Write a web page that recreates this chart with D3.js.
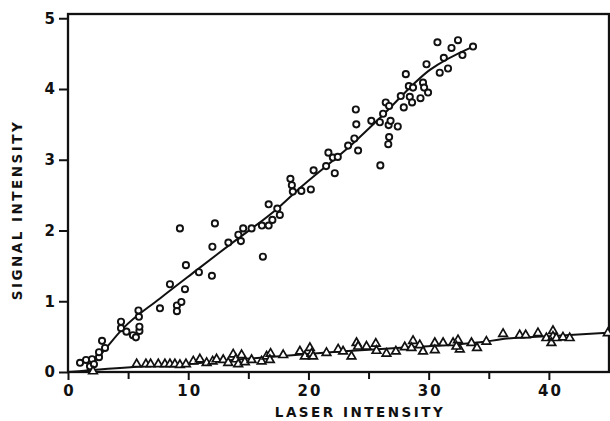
<!DOCTYPE html>
<html>
<head>
<meta charset="utf-8">
<script src="https://cdn.jsdelivr.net/npm/d3@7"></script>
<style>
	body { margin:0; background:#fff; }
	text { font-family:"DejaVu Sans", sans-serif; font-weight:bold; fill:#111; }
</style>
</head>
<body>
<svg id="chart" width="610" height="421"></svg>
<script>

	// --------------------------------
	// data
	// --------------------------------

	var circleX = [1.0,1.5,2.0,1.83,2.16,2.58,2.58,2.83,3.08,4.41,4.41,4.86,5.4,5.65,5.94,5.94,5.9,5.86,7.65,8.48,
		9.73,9.06,9.43,9.06,9.81,10.89,11.97,12.01,9.31,12.22,13.34,14.17,14.38,14.57,15.27,16.21,16.13,16.69,17.0,16.69,
		17.41,17.62,18.5,18.62,18.7,19.41,20.2,20.43,21.47,21.66,22.03,22.44,22.19,23.3,23.82,24.13,23.94,23.98,25.98,25.23,
		25.94,26.21,26.43,26.71,26.67,26.83,26.71,26.64,27.43,27.68,28.1,28.35,28.7,28.43,28.62,27.93,29.32,29.53,29.62,29.95,
		29.82,30.92,31.61,31.26,30.73,31.9,32.44,32.81,33.69];
	var circleY = [0.13,0.17,0.18,0.08,0.11,0.21,0.28,0.44,0.34,0.71,0.62,0.57,0.52,0.49,0.58,0.64,0.78,0.87,0.9,1.24,
		1.17,0.94,0.99,0.86,1.51,1.41,1.36,1.77,2.03,2.1,1.83,1.94,1.85,2.03,2.03,1.63,2.07,2.07,2.15,2.37,
		2.31,2.22,2.73,2.64,2.55,2.56,2.58,2.85,2.91,3.1,3.03,3.04,2.81,3.2,3.3,3.13,3.71,3.5,2.92,3.55,
		3.53,3.65,3.81,3.76,3.49,3.55,3.32,3.22,3.47,3.9,4.21,4.04,4.02,3.89,3.81,3.74,3.87,4.09,4.02,3.95,
		4.35,4.23,4.29,4.44,4.66,4.58,4.69,4.48,4.6];

	var triX = [2.08,5.71,6.48,6.87,7.51,8.06,8.48,8.89,9.31,9.81,10.42,10.97,11.53,12.03,12.36,12.91,13.33,13.74,13.97,14.16,
		14.44,14.71,15.27,16.1,16.52,16.85,16.79,17.9,19.29,19.7,20.12,20.26,20.39,21.5,22.47,22.88,23.58,24.0,24.13,24.83,
		25.6,25.66,26.49,27.27,28.01,28.7,28.57,29.26,29.53,30.51,30.51,31.2,32.03,32.44,32.59,32.31,33.56,34.02,34.8,36.19,
		37.57,38.07,39.09,39.79,40.34,40.34,40.21,40.62,41.17,41.73,44.9];
	var triY = [0.01,0.11,0.11,0.11,0.11,0.11,0.11,0.11,0.1,0.11,0.15,0.18,0.13,0.15,0.18,0.17,0.13,0.25,0.18,0.11,
		0.24,0.14,0.17,0.15,0.22,0.26,0.17,0.24,0.29,0.22,0.34,0.26,0.22,0.27,0.32,0.29,0.22,0.41,0.36,0.36,
		0.4,0.3,0.26,0.29,0.35,0.44,0.34,0.38,0.29,0.41,0.31,0.41,0.41,0.45,0.32,0.36,0.41,0.34,0.43,0.54,
		0.52,0.52,0.55,0.48,0.58,0.5,0.41,0.48,0.49,0.48,0.55];

	// smoothed fit lines drawn through the points
	var circleFitX = [1.6,2.93,4.6,7.65,10.7,13.47,17.62,19.29,23.44,25.94,30.1,33.69];
	var circleFitY = [0.03,0.29,0.62,1.04,1.44,1.8,2.34,2.6,3.19,3.59,4.27,4.6];
	var triFitX = [0,5.71,10.42,15.13,22.61,29.26,34.8,35.9,40.34,45];
	var triFitY = [0,0.075,0.12,0.19,0.29,0.36,0.43,0.46,0.51,0.555];

	var xMajorTicks = [0,10,20,30,40];
	var xMinorTicks = [5,15,25,35];
	var yTicks = [0,1,2,3,4,5];
	var xTitle = "LASER INTENSITY";
	var yTitle = "SIGNAL INTENSITY";

	// --------------------------------
	// frame and scales
	// --------------------------------

	var margin = {top:14, right:1, bottom:49, left:68};
	var width = 610 - margin.left - margin.right;
	var height = 421 - margin.top - margin.bottom;

	var svg = d3.select("#chart");
	var g = svg.append("g").attr("transform","translate("+margin.left+","+margin.top+")");

	var x = d3.scaleLinear().domain([0,45]).range([0,width]);
	var y = d3.scaleLinear().domain([0,5.06]).range([height,0]);

	// box around the plot
	g.append("rect")
		.attr("x",0).attr("y",0)
		.attr("width",width).attr("height",height)
		.attr("style","fill:none;stroke:#111;stroke-width:2.3");

	// --------------------------------
	// axes
	// --------------------------------

	var xAxis = g.append("g")
		.attr("transform","translate(0,"+height+")")
		.call(d3.axisBottom(x).tickValues(xMajorTicks).tickSize(8).tickPadding(5).tickFormat(d3.format("d")));
	g.append("g")
		.attr("transform","translate(0,"+height+")")
		.call(d3.axisBottom(x).tickValues(xMinorTicks).tickSize(7).tickFormat(""));

	var yAxis = g.append("g")
		.call(d3.axisLeft(y).tickValues(yTicks).tickSize(9).tickPadding(4).tickFormat(d3.format("d")));

	g.selectAll(".domain").remove();
	g.selectAll(".tick line").attr("stroke","#111").attr("stroke-width",2);
	g.selectAll(".tick text")
		.attr("style","font-size:15px;letter-spacing:2px;font-family:'DejaVu Sans';font-weight:bold;fill:#111");
	xAxis.selectAll(".tick text").attr("dx","1px");
	yAxis.selectAll(".tick text").attr("dx","2px");

	// axis titles
	svg.append("text")
		.attr("x",360).attr("y",417)
		.attr("text-anchor","middle")
		.attr("style","font-size:13.5px;letter-spacing:2.5px")
		.text(xTitle);
	svg.append("text")
		.attr("transform","translate(22,210) rotate(-90)")
		.attr("text-anchor","middle")
		.attr("style","font-size:13.5px;letter-spacing:2.5px")
		.text(yTitle);

	// --------------------------------
	// fit lines
	// --------------------------------

	var line = d3.line()
		.x(function(d){ return x(d[0]); })
		.y(function(d){ return y(d[1]); })
		.curve(d3.curveMonotoneX);

	g.append("path")
		.attr("d", line(d3.zip(circleFitX,circleFitY)))
		.attr("style","fill:none;stroke:#111;stroke-width:2");
	g.append("path")
		.attr("d", line(d3.zip(triFitX,triFitY)))
		.attr("style","fill:none;stroke:#111;stroke-width:2");

	// --------------------------------
	// markers
	// --------------------------------

	g.selectAll("circle.pt")
		.data(d3.zip(circleX,circleY))
		.enter().append("circle")
		.attr("class","pt")
		.attr("cx",function(d){ return x(d[0]); })
		.attr("cy",function(d){ return y(d[1]); })
		.attr("r",3.1)
		.attr("style","fill:#fff;stroke:#111;stroke-width:1.9");

	var tri = d3.symbol().type(d3.symbolTriangle).size(32);
	g.selectAll("path.tri")
		.data(d3.zip(triX,triY))
		.enter().append("path")
		.attr("class","tri")
		.attr("d",tri)
		.attr("transform",function(d){ return "translate("+x(d[0])+","+y(d[1])+")"; })
		.attr("style","fill:#fff;stroke:#111;stroke-width:1.7");

</script>
</body>
</html>
